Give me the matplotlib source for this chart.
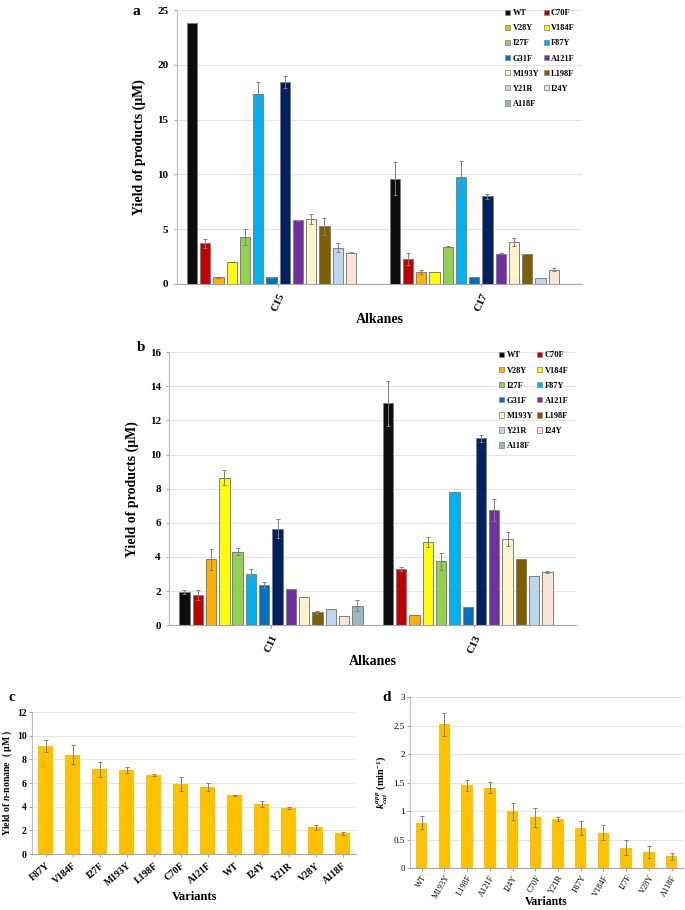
import numpy as np
import matplotlib
matplotlib.use("Agg")
import matplotlib.pyplot as plt
from matplotlib.patches import Patch

plt.rcParams['font.family'] = ['Liberation Serif', 'DejaVu Serif']
plt.rcParams['font.weight'] = 'bold'
plt.rcParams['axes.labelweight'] = 'bold'
plt.rcParams['mathtext.fontset'] = 'custom'
plt.rcParams['mathtext.rm'] = 'Liberation Serif:bold'
plt.rcParams['mathtext.it'] = 'Liberation Serif:italic:bold'
plt.rcParams['mathtext.bf'] = 'Liberation Serif:bold'

# series of panels a and b (the navy series has no legend entry in the original)
series = ['WT', 'C70F', 'V28Y', 'V184F', 'I27F', 'F87Y', 'G31F', '',
          'A121F', 'M193Y', 'L198F', 'Y21R', 'I24Y', 'A118F']
colors = ['#0d0d0d', '#c00000', '#ffb000', '#ffff00', '#92d050', '#00b0f0', '#0070c0',
          '#002060', '#7030a0', '#fff2cc', '#7f6000', '#bdd7ee', '#fbe5d6', '#9db3c6']

# panel a: C15 / C17
alk_a = ['C15', 'C17']
a_c15 = [23.8, 3.7, 0.6, 2.0, 4.3, 17.3, 0.6, 18.4, 5.8, 5.9, 5.25, 3.3, 2.85, np.nan]
a_c15_err = [0, 0.4, 0.05, 0, 0.75, 1.1, 0.05, 0.55, 0.05, 0.45, 0.75, 0.4, 0.05, 0]
a_c17 = [9.6, 2.3, 1.1, 1.05, 3.4, 9.75, 0.6, 8.0, 2.75, 3.85, 2.75, 0.5, 1.3, np.nan]
a_c17_err = [1.5, 0.55, 0.15, 0, 0.05, 1.45, 0, 0.25, 0.05, 0.35, 0, 0, 0.15, 0]

# panel b: C11 / C13
alk_b = ['C11', 'C13']
b_c11 = [1.95, 1.75, 3.85, 8.65, 4.3, 3.0, 2.35, 5.65, 2.1, 1.65, 0.75, 0.97, 0.55, 1.15]
b_c11_err = [0.1, 0.3, 0.6, 0.45, 0.2, 0.3, 0.2, 0.55, 0, 0, 0.08, 0, 0, 0.33]
b_c13 = [13.0, 3.28, 0.58, 4.88, 3.75, 7.82, 1.07, 10.95, 6.75, 5.05, 3.85, 2.9, 3.1, np.nan]
b_c13_err = [1.3, 0.1, 0, 0.3, 0.5, 0, 0, 0.2, 0.65, 0.4, 0, 0, 0.05, 0]

# panel c
c_var = ['F87Y', 'V184F', 'I27F', 'M193Y', 'L198F', 'C70F', 'A121F', 'WT', 'I24Y', 'Y21R', 'V28Y', 'A118F']
c_val = [9.1, 8.4, 7.15, 7.1, 6.7, 5.95, 5.65, 4.95, 4.2, 3.9, 2.25, 1.75]
c_err = [0.5, 0.8, 0.6, 0.25, 0.1, 0.6, 0.35, 0.05, 0.25, 0.1, 0.2, 0.1]

# panel d
d_var = ['WT', 'M193Y', 'L198F', 'A121F', 'I24Y', 'C70F', 'Y21R', 'F87Y', 'V184F', 'I27F', 'V28Y', 'A118F']
d_val = [0.8, 2.52, 1.45, 1.41, 1.0, 0.89, 0.86, 0.7, 0.62, 0.36, 0.28, 0.21]
d_err = [0.12, 0.2, 0.1, 0.1, 0.15, 0.16, 0.04, 0.12, 0.13, 0.13, 0.1, 0.06]

fig = plt.figure(figsize=(6.85, 9.10), dpi=100)


def style(ax):
    for s in ['top', 'right']:
        ax.spines[s].set_visible(False)
    ax.spines['left'].set_color('#bfbfbf')
    ax.spines['bottom'].set_color('#a6a6a6')
    ax.yaxis.grid(True, color='#e3e3e3', lw=0.8)
    ax.set_axisbelow(True)
    ax.tick_params(axis='both', length=2, color='#a6a6a6', labelsize=8, pad=4)


def grouped(ax, cats, groups, errs, ymax, step):
    n = len(series)
    slot = 0.915 / n
    x = np.arange(len(cats))
    for i in range(n):
        vals = [g[i] for g in groups]
        e = [er[i] for er in errs]
        pos = x - 0.915 / 2 + slot * (i + 0.5)
        ax.bar(pos, vals, slot * 0.78, color=colors[i], edgecolor='#7f7f7f', lw=0.7)
        ax.errorbar(pos, vals, yerr=e, fmt='none', ecolor='#7f7f7f', elinewidth=0.7, capsize=1.3, capthick=0.7)
    ax.set_xlim(-0.5, len(cats) - 0.5)
    ax.set_ylim(0, ymax)
    ax.set_yticks(np.arange(0, ymax + 0.01, step))
    ax.set_xticks(x)
    ax.set_xticklabels(cats, rotation=65, ha='center', fontsize=9)
    style(ax)
    ax.set_ylabel('Yield of products (μM)', fontsize=10, labelpad=8)
    ax.set_xlabel('Alkanes', fontsize=10, labelpad=0)
    # legend: row-wise reading order over two columns
    named = [(nm, c) for nm, c in zip(series, colors) if nm]
    order = named[0::2] + named[1::2]
    handles = [Patch(facecolor=c, edgecolor='#8c8c8c', lw=0.6, label=nm) for nm, c in order]
    ax.legend(handles=handles, ncol=2, loc='upper right', bbox_to_anchor=(1.0, 1.03), frameon=False,
              fontsize=6, handlelength=0.6, handleheight=0.6, handletextpad=0.3, columnspacing=0.5,
              labelspacing=0.85)


ax_a = fig.add_axes([0.258, 0.688, 0.592, 0.301])
grouped(ax_a, alk_a, [a_c15, a_c17], [a_c15_err, a_c17_err], 25, 5)
fig.text(0.194, 0.987, 'a', fontsize=11, weight='bold', va='center')

ax_b = fig.add_axes([0.247, 0.313, 0.594, 0.300])
grouped(ax_b, alk_b, [b_c11, b_c13], [b_c11_err, b_c13_err], 16, 2)
fig.text(0.200, 0.618, 'b', fontsize=11, weight='bold', va='center')

# panel c
ax_c = fig.add_axes([0.047, 0.0615, 0.473, 0.156])
xc = np.arange(len(c_var))
ax_c.bar(xc, c_val, 0.55, color='#ffc000')
ax_c.errorbar(xc, c_val, yerr=c_err, fmt='none', ecolor='#7f7f7f', elinewidth=0.7, capsize=1.3, capthick=0.7)
ax_c.set_xlim(-0.5, len(c_var) - 0.5)
ax_c.set_ylim(0, 12)
ax_c.set_yticks(np.arange(0, 13, 2))
ax_c.set_xticks(xc)
ax_c.set_xticklabels(c_var, rotation=40, ha='right', rotation_mode='anchor', fontsize=7.5)
style(ax_c)
ax_c.tick_params(axis='both', labelsize=7, pad=3)
ax_c.tick_params(axis='y', pad=2)
ax_c.set_ylabel('Yield of $\\mathit{n}$-nonane  ( μM )', fontsize=7, labelpad=2)
ax_c.set_xlabel('Variants', fontsize=9, labelpad=2)
fig.text(0.012, 0.234, 'c', fontsize=11, weight='bold', va='center')

# panel d
ax_d = fig.add_axes([0.599, 0.046, 0.398, 0.188])
xd = np.arange(len(d_var))
ax_d.bar(xd, d_val, 0.5, color='#ffc000')
ax_d.errorbar(xd, d_val, yerr=d_err, fmt='none', ecolor='#7f7f7f', elinewidth=0.7, capsize=1.3, capthick=0.7)
ax_d.set_xlim(-0.5, len(d_var) - 0.5)
ax_d.set_ylim(0, 3)
ax_d.set_yticks([0, 0.5, 1, 1.5, 2, 2.5, 3])
ax_d.set_yticklabels(['0', '0.5', '1', '1.5', '2', '2.5', '3'])
ax_d.set_xticks(xd)
ax_d.set_xticklabels(d_var, rotation=60, ha='right', rotation_mode='anchor', fontsize=6)
style(ax_d)
ax_d.tick_params(axis='both', labelsize=6.5, pad=2)
ax_d.tick_params(axis='x', labelsize=6)
for t in ax_d.get_yticklabels() + ax_d.get_xticklabels():
    t.set_fontweight('normal')
ax_d.set_ylabel('$\\mathit{k_{cat}^{app}}$ (min$^{-1}$)', fontsize=7.5, labelpad=3)
ax_d.set_xlabel('Variants', fontsize=8.5, labelpad=-3)
fig.text(0.558, 0.234, 'd', fontsize=11, weight='bold', va='center')

fig.savefig('out.png', dpi=100)
